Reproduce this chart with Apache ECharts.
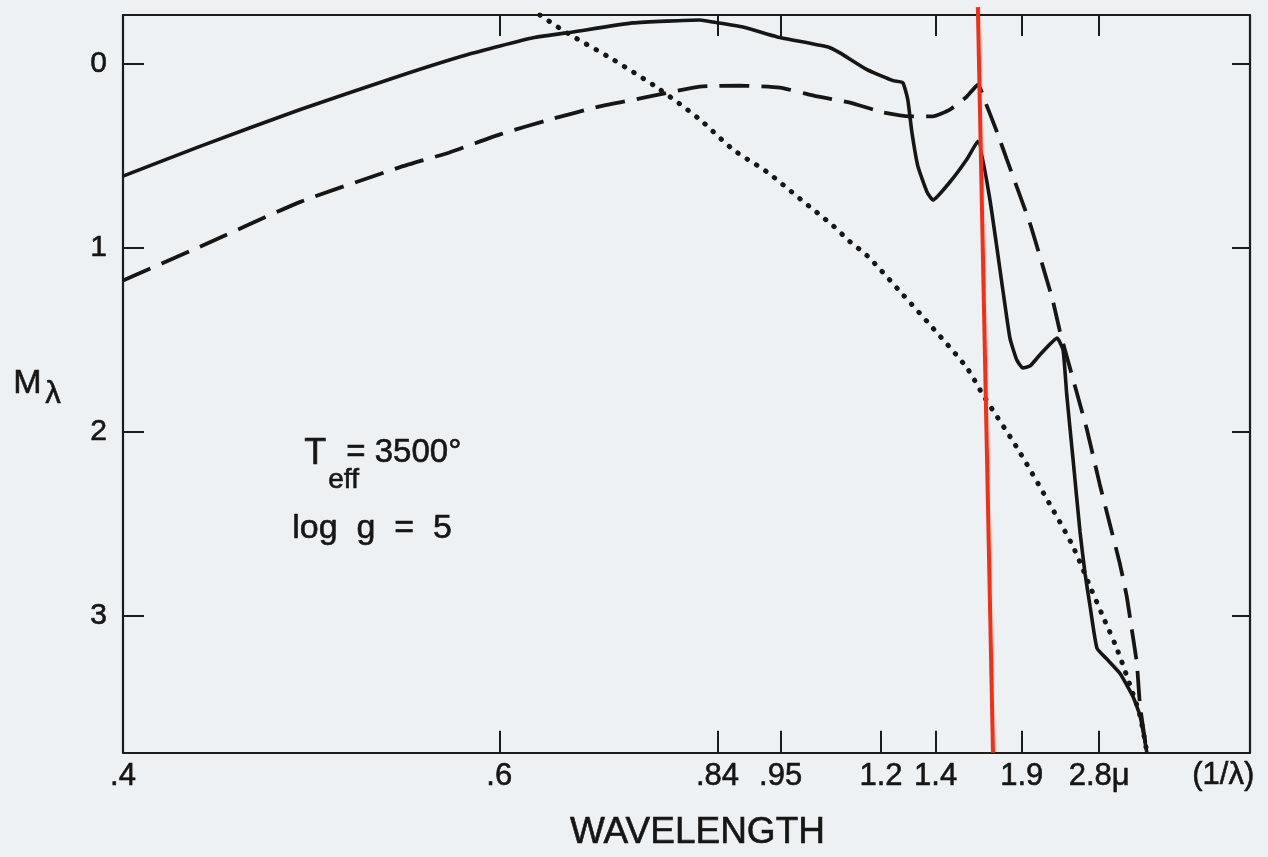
<!DOCTYPE html>
<html>
<head>
<meta charset="utf-8">
<script src="https://cdn.jsdelivr.net/npm/echarts@6/dist/echarts.min.js"></script>
<style>
html,body{margin:0;padding:0;background:#eef1f3;}
#chart{width:1268px;height:857px;}
</style>
</head>
<body>
<div id="chart"></div>
<script>
// x values are 1/lambda (inverse microns), axis drawn reversed; y is M_lambda (magnitudes, inverted)
const xMin = 0.028, xMax = 2.488;
const yMin = -0.265, yMax = 3.746;

const tickWavelengths = [0.4, 0.6, 0.84, 0.95, 1.2, 1.4, 1.9, 2.8];
const tickLabels = ['.4', '.6', '.84', '.95', '1.2', '1.4', '1.9', '2.8\u03bc'];
const bottomTickWavelengths = [0.6, 0.84, 0.95, 1.2, 1.4, 1.9, 2.8];
const topTickWavelengths = [0.6, 0.84, 0.95, 1.4, 1.9, 2.8];
const yTicks = [0, 1, 2, 3];

// solid curve
const solidX = [2.488, 2.320, 2.101, 1.883, 1.737, 1.593, 1.506, 1.375, 1.229, 1.200, 1.135, 1.060, 0.951, 0.923, 0.864, 0.807, 0.786, 0.775, 0.766, 0.753, 0.733, 0.720, 0.683, 0.646, 0.622, 0.596, 0.567, 0.552, 0.537, 0.524, 0.508, 0.487, 0.449, 0.436, 0.428, 0.414, 0.399, 0.388, 0.377, 0.362, 0.340, 0.312, 0.284, 0.268, 0.253];
const solidM = [0.611, 0.449, 0.249, 0.065, -0.049, -0.141, -0.173, -0.222, -0.238, -0.227, -0.200, -0.146, -0.092, -0.059, 0.032, 0.092, 0.103, 0.195, 0.373, 0.557, 0.697, 0.741, 0.643, 0.519, 0.422, 0.735, 1.238, 1.492, 1.611, 1.654, 1.643, 1.584, 1.492, 1.557, 1.800, 2.157, 2.546, 2.773, 2.951, 3.178, 3.238, 3.314, 3.438, 3.546, 3.746];

// dashed curve
const dashedX = [2.488, 2.320, 2.101, 1.883, 1.774, 1.665, 1.556, 1.447, 1.338, 1.229, 1.141, 1.054, 0.973, 0.901, 0.829, 0.770, 0.720, 0.683, 0.646, 0.622, 0.602, 0.580, 0.559, 0.537, 0.508, 0.480, 0.458, 0.443, 0.406, 0.384, 0.356, 0.334, 0.312, 0.297, 0.286, 0.275, 0.268, 0.253];
const dashedM = [1.178, 0.995, 0.751, 0.562, 0.481, 0.384, 0.303, 0.232, 0.178, 0.124, 0.119, 0.130, 0.178, 0.211, 0.265, 0.286, 0.286, 0.249, 0.178, 0.114, 0.232, 0.373, 0.519, 0.670, 0.870, 1.103, 1.292, 1.454, 1.789, 1.989, 2.286, 2.503, 2.719, 2.897, 3.076, 3.259, 3.492, 3.746];

// dotted curve
const dottedX = [1.578, 1.519, 1.418, 1.322, 1.229, 1.157, 1.082, 1.010, 0.938, 0.901, 0.864, 0.792, 0.720, 0.646, 0.611, 0.537, 0.465, 0.414, 0.377, 0.349, 0.318, 0.284, 0.268, 0.253];
const dottedM = [-0.265, -0.168, -0.022, 0.130, 0.303, 0.465, 0.589, 0.735, 0.881, 0.968, 1.043, 1.238, 1.438, 1.654, 1.800, 2.086, 2.395, 2.627, 2.843, 3.005, 3.184, 3.422, 3.546, 3.746];

// red marker line (added annotation)
const redX = [0.622, 0.589];
const redM = [-0.308, 3.746];

const FONT = 'Liberation Sans';
const INK = '#161616';

function pairs(xs, ys) { return xs.map((x, i) => [x, ys[i]]); }
function inv(w) { return Math.min(1 / w, xMax); }

const labelValues = tickWavelengths.map(inv);
const labelMap = {};
labelValues.forEach((v, i) => { labelMap[v.toFixed(5)] = tickLabels[i]; });

const chart = echarts.init(document.getElementById('chart'), null, {renderer: 'canvas'});

const bold = {textBorderColor: INK, textBorderWidth: 0.6};

const option = {
  backgroundColor: '#eef1f3',
  animation: false,
  grid: {left: 123, right: 18, top: 15, bottom: 100, containLabel: false},
  xAxis: [
    {
      type: 'value', inverse: true, min: xMin, max: xMax, position: 'bottom',
      name: 'WAVELENGTH', nameLocation: 'middle', nameGap: 62,
      nameTextStyle: Object.assign({fontFamily: FONT, fontSize: 37, color: INK, padding: [0, 0, 0, 22]}, bold),
      axisLine: {show: true, onZero: false, lineStyle: {color: '#1c1c1c', width: 2.2}},
      axisTick: {show: true, inside: true, length: 22, customValues: bottomTickWavelengths.map(inv), lineStyle: {color: '#1c1c1c', width: 2}},
      axisLabel: Object.assign({show: true, customValues: labelValues, margin: 8, fontFamily: FONT, fontSize: 31, color: INK,
        formatter: v => labelMap[Number(v).toFixed(5)] || ''}, bold),
      splitLine: {show: false}
    },
    {
      type: 'value', inverse: true, min: xMin, max: xMax, position: 'top',
      axisLine: {show: true, onZero: false, lineStyle: {color: '#1c1c1c', width: 2.2}},
      axisTick: {show: true, inside: true, length: 21, customValues: topTickWavelengths.map(inv), lineStyle: {color: '#1c1c1c', width: 2}},
      axisLabel: {show: false},
      splitLine: {show: false}
    }
  ],
  yAxis: [
    {
      type: 'value', inverse: true, min: yMin, max: yMax, position: 'left',
      axisLine: {show: true, onZero: false, lineStyle: {color: '#1c1c1c', width: 2.2}},
      axisTick: {show: true, inside: true, length: 21, customValues: yTicks, lineStyle: {color: '#1c1c1c', width: 2}},
      axisLabel: Object.assign({show: true, customValues: yTicks, margin: 16, fontFamily: FONT, fontSize: 30, color: INK}, bold),
      splitLine: {show: false}
    },
    {
      type: 'value', inverse: true, min: yMin, max: yMax, position: 'right',
      axisLine: {show: true, onZero: false, lineStyle: {color: '#1c1c1c', width: 2.2}},
      axisTick: {show: true, inside: true, length: 18, customValues: yTicks, lineStyle: {color: '#1c1c1c', width: 2}},
      axisLabel: {show: false},
      splitLine: {show: false}
    }
  ],
  series: [
    {
      name: 'solid', type: 'line', data: pairs(solidX, solidM), showSymbol: false, smooth: 0.15,
      lineStyle: {color: INK, width: 3.6}
    },
    {
      name: 'dashed', type: 'line', data: pairs(dashedX, dashedM), showSymbol: false, smooth: 0.15,
      lineStyle: {color: INK, width: 3.8, type: [30, 12]}
    },
    {
      name: 'dotted', type: 'line', data: pairs(dottedX, dottedM), showSymbol: false, smooth: 0.3,
      lineStyle: {color: INK, width: 5, type: [0.5, 10.5], cap: 'round'}
    },
    {
      name: 'marker', type: 'line', data: pairs(redX, redM), showSymbol: false, clip: false, z: 10,
      lineStyle: {color: '#ff2a12', width: 4}
    }
  ],
  graphic: [
    {type: 'text', left: 13, top: 366, style: Object.assign({text: 'M', font: '34px "Liberation Sans"', fill: INK}, {stroke: INK, lineWidth: 0.6})},
    {type: 'text', left: 45, top: 379, style: {text: '\u03bb', font: '31px "Liberation Sans"', fill: INK, stroke: INK, lineWidth: 0.6}},
    {type: 'text', left: 304, top: 436, style: {text: 'T', font: '36px "Liberation Sans"', fill: INK, stroke: INK, lineWidth: 0.6}},
    {type: 'text', left: 328, top: 466, style: {text: 'eff', font: '28px "Liberation Sans"', fill: INK, stroke: INK, lineWidth: 0.6}},
    {type: 'text', left: 346, top: 436, style: {text: '= 3500\u00b0', font: '33px "Liberation Sans"', fill: INK, stroke: INK, lineWidth: 0.6}},
    {type: 'text', left: 292, top: 511, style: {text: 'log  g  =  5', font: '34px "Liberation Sans"', fill: INK, stroke: INK, lineWidth: 0.6}},
    {type: 'text', left: 1192, top: 760, style: {text: '(1/\u03bb)', font: '31px "Liberation Sans"', fill: INK, stroke: INK, lineWidth: 0.6}}
  ]
};
chart.setOption(option);
</script>
</body>
</html>
